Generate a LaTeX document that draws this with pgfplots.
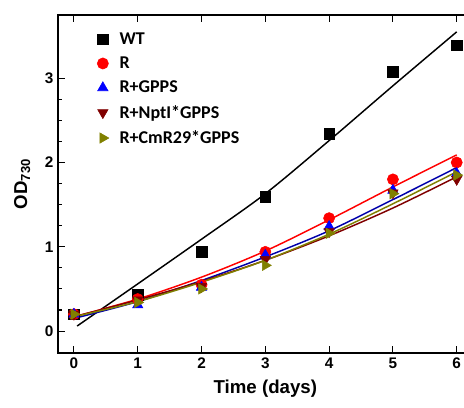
\documentclass[border=0pt]{standalone}
\usepackage{fontspec}
\setmainfont{Liberation Sans}
\newfontfamily\leg{Carlito}
\usepackage{pgfplots}
\pgfplotsset{compat=1.18}
\definecolor{dkred}{RGB}{128,0,0}
\definecolor{olive2}{RGB}{128,128,0}
\definecolor{navy2}{RGB}{0,0,170}
\begin{document}
\begin{tikzpicture}
\begin{axis}[name=ax,
  scale only axis, width=311pt, height=253.5pt,
  xmin=-0.25, xmax=6.25, ymin=-0.26, ymax=3.75,
  xtick={0,1,2,3,4,5,6}, ytick={0,1,2,3},
  minor y tick num=3,
  axis line style={line width=1pt},
  major tick length=5pt, minor tick length=3pt,
  every tick/.style={black, line width=0.8pt},
  tick label style={font=\fontsize{11.5}{13}\selectfont\bfseries},
  /pgf/number format/assume math mode=true,
  xlabel={\fontsize{14}{16}\selectfont\bfseries Time (days)},
  ylabel={\fontsize{14}{16}\selectfont\bfseries OD$_{\mathbf{730}}$},
  xlabel style={yshift=-2pt},
  ylabel style={yshift=4pt},
  legend cell align=left,
  legend style={draw=none, fill=none, at={(0.075,0.965)}, anchor=north west,
    font=\leg\fontsize{13.5}{15}\selectfont\bfseries, row sep=3.9pt},
  legend image code/.code={\path[draw=none,fill=none] (0cm,0cm) -- (0.62cm,0cm); \draw[only marks] plot coordinates {(0.25cm,0cm)};},
]
% data points
\addplot[only marks, mark=square*, mark size=4pt, black] coordinates {(0,0.2) (1,0.43) (2,0.94) (3,1.59) (4,2.34) (5,3.08) (6,3.39)};
\addlegendentry{WT}
\addplot[only marks, mark=*, mark size=4.2pt, red] coordinates {(0,0.2) (1,0.38) (2,0.55) (3,0.94) (4,1.34) (5,1.8) (6,2.0)};
\addlegendentry{R}
\addplot[only marks, mark=triangle*, mark size=4.5pt, blue] coordinates {(0,0.2) (1,0.31) (2,0.52) (3,0.9) (4,1.24) (5,1.67) (6,1.87)};
\addlegendentry{R+GPPS}
\addplot[only marks, mark=triangle*, mark options={rotate=180}, mark size=4.5pt, dkred] coordinates {(0,0.2) (1,0.37) (2,0.53) (3,0.85) (4,1.18) (5,1.64) (6,1.8)};
\addlegendentry{R+NptI*GPPS}
\addplot[only marks, mark=triangle*, mark options={rotate=-90}, mark size=4.5pt, olive2] coordinates {(0,0.2) (1,0.34) (2,0.5) (3,0.78) (4,1.16) (5,1.63) (6,1.85)};
\addlegendentry{R+CmR29*GPPS}
% fitted curves
\addplot[black, line width=1.1pt, smooth, forget plot] coordinates {(0.05,0.06) (1,0.56) (2,1.09) (3,1.63) (4,2.26) (5,2.91) (6,3.55)};
\addplot[red, line width=1.1pt, smooth, forget plot] coordinates {(0,0.17) (1,0.38) (2,0.64) (3,0.95) (4,1.32) (5,1.71) (6,2.09)};
\addplot[navy2, line width=1.1pt, smooth, forget plot] coordinates {(0,0.15) (1,0.35) (2,0.6) (3,0.88) (4,1.19) (5,1.56) (6,1.94)};
\addplot[dkred, line width=1.1pt, smooth, forget plot] coordinates {(0,0.17) (1,0.37) (2,0.59) (3,0.84) (4,1.13) (5,1.46) (6,1.83)};
\addplot[olive2, line width=1.1pt, smooth, forget plot] coordinates {(0,0.17) (1,0.35) (2,0.58) (3,0.84) (4,1.15) (5,1.51) (6,1.89)};
\end{axis}
\pgfresetboundingbox
\path[use as bounding box] ([xshift=-43.5pt,yshift=-40.5pt]ax.south west) rectangle ([xshift=304.5pt,yshift=11.25pt]ax.north west);
\end{tikzpicture}
\end{document}
